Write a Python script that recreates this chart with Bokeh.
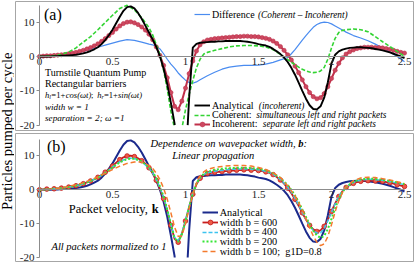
import numpy as np
from bokeh.plotting import figure
from bokeh.models import Label, Legend, LegendItem, Range1d, FixedTicker
from bokeh.layouts import row, column
from bokeh.embed import file_html
from bokeh.resources import INLINE

# ---------------- data ----------------
K_FINE = [
    0.000, 0.025, 0.050, 0.075, 0.100, 0.125, 0.150, 0.175, 0.200, 0.225,
    0.250, 0.275, 0.300, 0.325, 0.350, 0.375, 0.400, 0.425, 0.450, 0.475,
    0.500, 0.525, 0.550, 0.575, 0.600, 0.625, 0.650, 0.675, 0.700, 0.725,
    0.750, 0.775, 0.800, 0.825, 0.850, 0.875, 0.900, 0.925, 0.950, 0.975,
    1.000, 1.025, 1.050, 1.075, 1.100, 1.125, 1.150, 1.175, 1.200, 1.225,
    1.250, 1.275, 1.300, 1.325, 1.350, 1.375, 1.400, 1.425, 1.450, 1.475,
    1.500, 1.525, 1.550, 1.575, 1.600, 1.625, 1.650, 1.675, 1.700, 1.725,
    1.750, 1.775, 1.800, 1.825, 1.850, 1.875, 1.900, 1.925, 1.950, 1.975,
    2.000, 2.025, 2.050, 2.075, 2.100, 2.125, 2.150, 2.175, 2.200, 2.225,
    2.250, 2.275, 2.300, 2.325, 2.350, 2.375, 2.400, 2.425, 2.450, 2.475,
    2.500]

ANALYTICAL = [
    0.0, 0.0, 0.0, 0.0, 0.1, 0.1, 0.2, 0.2, 0.3, 0.4,
    0.5, 0.7, 0.9, 1.2, 1.6, 2.1, 2.7, 3.6, 4.8, 6.2,
    7.8, 9.7, 11.6, 13.3, 14.4, 14.6, 14.0, 12.7, 11.0, 9.0,
    7.0, 5.0, 2.8, 0.0, -3.5, -8.0, -13.5, -19.5, -32.0, -45.0,
    -32.0, -12.0, 2.6, 3.7, 4.0, 4.1, 4.2, 4.3, 4.3, 4.4,
    4.4, 4.5, 4.5, 4.5, 4.5, 4.5, 4.4, 4.3, 4.1, 3.9,
    3.6, 3.4, 3.2, 2.8, 2.2, 1.5, 0.7, -0.3, -1.6, -3.3,
    -5.3, -7.6, -10.0, -12.3, -14.2, -15.3, -15.4, -14.5, -12.0, -7.5,
    -2.0, 0.5, 1.5, 2.0, 2.3, 2.5, 2.6, 2.7, 2.7, 2.6,
    2.5, 2.4, 2.2, 2.0, 1.8, 1.5, 1.2, 0.8, 0.4, 0.0,
    -0.5]

INCOHERENT = [
    0.0, 0.1, 0.2, 0.2, 0.3, 0.4, 0.5, 0.6, 0.8, 1.0,
    1.2, 1.5, 1.8, 2.2, 2.6, 3.1, 3.7, 4.4, 5.2, 6.1,
    7.0, 8.0, 8.9, 9.6, 10.0, 10.1, 9.8, 9.3, 8.6, 7.7,
    6.5, 4.9, 2.8, 0.3, -2.6, -6.2, -10.5, -14.5, -15.5, -13.0,
    -9.2, -5.0, -1.3, 1.6, 3.4, 4.3, 4.8, 5.0, 5.2, 5.3,
    5.4, 5.5, 5.6, 5.7, 5.8, 5.8, 5.9, 5.9, 5.8, 5.8,
    5.7, 5.5, 5.3, 5.0, 4.5, 3.8, 2.9, 1.8, 0.5, -1.0,
    -2.8, -4.7, -6.8, -8.8, -10.5, -11.7, -12.3, -12.0, -10.8, -8.8,
    -6.4, -4.0, -2.0, -0.4, 0.7, 1.4, 1.9, 2.3, 2.5, 2.7,
    2.7, 2.7, 2.6, 2.6, 2.5, 2.3, 2.1, 1.8, 1.5, 1.2,
    1.0]

K_DASH = [
    0.00, 0.05, 0.10, 0.15, 0.20, 0.25, 0.30, 0.35, 0.40, 0.45, 0.50, 0.55, 0.60, 0.65, 0.70, 0.75,
    0.775, 0.800, 0.825, 0.850, 0.875, 0.900, 0.925, 0.950, 0.975, 1.000, 1.025, 1.050, 1.075, 1.100, 1.125,
    1.15, 1.20, 1.25, 1.30, 1.35, 1.40, 1.45, 1.50, 1.55, 1.60, 1.65, 1.70,
    1.725, 1.750, 1.775, 1.800, 1.825, 1.850, 1.875, 1.900, 1.925, 1.950, 1.975, 2.000, 2.025, 2.050, 2.075, 2.100,
    2.15, 2.20, 2.25, 2.30, 2.35, 2.40, 2.45, 2.50]

COHERENT = [
    0.0, 0.1, 0.3, 0.6, 1.3, 2.5, 4.2, 5.8, 7.8, 9.9, 12.0, 14.0, 14.9, 13.6, 11.3, 8.4,
    6.3, 3.4, 0.5, -4.0, -9.5, -16.0, -21.0, -24.0, -21.0, -15.5, -11.0, -7.0, -3.3, -0.8, 0.7,
    1.2, 1.8, 2.3, 2.8, 3.1, 3.2, 3.2, 3.1, 2.8, 2.0, 0.6, -0.9,
    -1.7, -2.4, -3.1, -3.7, -4.2, -4.5, -4.7, -4.6, -4.2, -3.2, -0.8, 2.5, 5.3, 7.0, 7.6, 7.8,
    8.0, 7.8, 7.2, 5.8, 4.3, 2.9, 1.5, 0.0]

DIFFERENCE = [
    0.0, 0.0, 0.1, 0.3, 0.6, 1.0, 1.5, 2.1, 2.7, 3.3, 3.9, 4.5, 4.9, 4.7, 4.2, 3.6,
    3.4, 3.0, 2.2, 0.8, -0.8, -2.2, -3.4, -4.8, -5.9, -6.9, -7.6, -7.8, -7.4, -6.8, -6.2,
    -5.6, -4.6, -3.7, -3.1, -2.8, -2.6, -2.6, -2.5, -2.2, -1.7, -1.0, -0.3,
    0.8, 2.0, 3.4, 4.8, 6.1, 7.3, 8.5, 9.3, 9.8, 10.0, 9.9, 9.5, 8.9, 8.3, 7.7, 7.1,
    6.1, 5.4, 4.6, 3.6, 2.5, 1.3, 0.0, -1.5]

WIDTH_400 = [
    0.0, 0.1, 0.3, 0.5, 0.8, 1.2, 1.8, 2.6, 3.6, 5.0, 6.7, 8.3, 9.3, 9.3, 8.3, 6.4,
    5.0, 3.0, 0.6, -2.3, -6.0, -10.2, -14.0, -15.0, -12.8, -9.0, -4.8, -1.0, 1.9, 3.6, 4.5,
    5.0, 5.5, 5.8, 6.0, 6.1, 6.2, 6.1, 5.9, 5.5, 4.6, 3.1, 0.8,
    -0.7, -2.5, -4.5, -6.6, -8.7, -10.6, -12.0, -12.8, -12.7, -11.4, -9.2, -6.6, -4.1, -2.0, -0.3, 0.9,
    2.2, 2.9, 3.1, 3.0, 2.8, 2.4, 2.0, 1.5]

WIDTH_200 = [
    0.0, 0.1, 0.3, 0.5, 0.8, 1.2, 1.8, 2.6, 3.6, 5.0, 6.6, 8.1, 9.1, 9.2, 8.4, 6.6,
    5.3, 3.4, 1.0, -2.0, -5.8, -10.2, -14.2, -15.4, -13.2, -9.3, -5.0, -1.2, 1.8, 3.7, 4.7,
    5.3, 5.9, 6.2, 6.4, 6.5, 6.5, 6.4, 6.2, 5.8, 4.9, 3.5, 1.4,
    0.0, -1.7, -3.6, -5.8, -8.0, -10.2, -12.1, -13.5, -14.2, -13.6, -11.6, -8.6, -5.4, -2.7, -0.7, 0.8,
    2.4, 3.1, 3.3, 3.2, 2.9, 2.6, 2.2, 1.7]

WIDTH_100 = [
    0.0, 0.1, 0.3, 0.6, 1.0, 1.5, 2.1, 2.9, 3.8, 4.9, 6.0, 7.0, 7.8, 8.2, 8.2, 7.2,
    6.3, 4.9, 3.0, 0.5, -2.8, -6.8, -11.0, -13.8, -13.6, -10.0, -5.5, -1.3, 2.0, 4.1, 5.3,
    6.0, 6.6, 6.9, 7.1, 7.2, 7.2, 7.0, 6.6, 6.0, 5.0, 3.6, 1.2,
    -0.3, -1.8, -3.8, -6.0, -8.6, -11.2, -13.6, -15.5, -16.5, -16.0, -13.8, -10.3, -6.5, -3.2, -0.8, 0.9,
    2.7, 3.5, 3.7, 3.6, 3.3, 2.9, 2.4, 1.8]

X_TICKS = [0, 0.5, 1, 1.5, 2, 2.5]
X_TICK_LABELS = ["0", "0.5", "1", "1.5", "2", "2.5"]
Y_TICKS = [-20, -10, 0, 10]
Y_TICK_LABELS = ["-20", "-10", "0", "10"]
X_MIN, X_MAX = 0, 2.5
Y_MIN, Y_MAX = -20, 15

for s in (ANALYTICAL, INCOHERENT):
    assert len(s) == len(K_FINE)
for s in (COHERENT, DIFFERENCE, WIDTH_400, WIDTH_200, WIDTH_100):
    assert len(s) == len(K_DASH)

# ---------------- layout geometry (page pixels) ----------------
TOTAL_W, TOTAL_H = 415, 262
LABEL_W = 14
PANEL_W = TOTAL_W - LABEL_W
FRAME_L, FRAME_R = 1, PANEL_W - 2
REF_X0, REF_PPK = 39.0, 146.0            # page px of k=0, px per unit k
FONT = "Liberation Serif"


def k_ref(xr):
    return (xr - REF_X0) / REF_PPK


def k_at_fig(fx):
    return k_ref(fx + LABEL_W)


def clip_low(xs, ys, lo=Y_MIN):
    """Emulate the chart's clipping of a line at the axis minimum."""
    ox, oy = [], []
    for i, (x, y) in enumerate(zip(xs, ys)):
        if i > 0:
            x0, y0 = xs[i - 1], ys[i - 1]
            if (y0 < lo) != (y < lo):
                t = (lo - y0) / (y - y0)
                ox.append(x0 + t * (x - x0))
                oy.append(lo)
                if y < lo:
                    ox.append(np.nan)
                    oy.append(np.nan)
        if y >= lo:
            ox.append(x)
            oy.append(y)
    return np.array(ox, float), np.array(oy, float)


def make_panel(fig_top, height, border_bottom, v0_ref, ppv_ref):
    frame_bottom = height - border_bottom

    def v_ref(yr):
        return (v0_ref - yr) / ppv_ref

    def v_at_fig(fy):
        return v_ref(fig_top + fy)

    p = figure(width=PANEL_W, height=height, output_backend="svg", toolbar_location=None,
               x_range=Range1d(k_at_fig(FRAME_L), k_at_fig(FRAME_R)),
               y_range=Range1d(v_at_fig(frame_bottom), v_at_fig(1)),
               min_border_left=FRAME_L, min_border_right=PANEL_W - FRAME_R,
               min_border_top=1, min_border_bottom=border_bottom)
    p.background_fill_color = "white"
    p.border_fill_color = "white"
    p.outline_line_color = "#a6a6a6"
    p.outline_line_width = 1
    p.xgrid.visible = False
    p.ygrid.visible = False

    xa = p.xaxis[0]
    xa.fixed_location = 0
    xa.ticker = FixedTicker(ticks=X_TICKS)
    xa.major_label_overrides = dict(zip(X_TICKS, X_TICK_LABELS))
    xa.bounds = (X_MIN, X_MAX)
    xa.major_tick_out = 0
    xa.major_tick_in = 0
    xa.minor_tick_out = 0
    xa.minor_tick_in = 0
    xa.major_label_standoff = 1

    ya = p.yaxis[0]
    ya.fixed_location = 0
    ya.ticker = FixedTicker(ticks=Y_TICKS)
    ya.major_label_overrides = dict(zip(Y_TICKS, Y_TICK_LABELS))
    ya.bounds = (Y_MIN, Y_MAX)
    ya.major_tick_out = 3
    ya.major_tick_in = 0
    ya.minor_tick_out = 0
    ya.minor_tick_in = 0
    ya.major_label_standoff = 2

    for ax in (xa, ya):
        ax.axis_line_color = "#8c8c8c"
        ax.major_tick_line_color = "#8c8c8c"
        ax.major_label_text_font = FONT
        ax.major_label_text_font_size = "11px"
        ax.major_label_text_color = "#262626"

    p._fig_top = fig_top
    p._frame_bottom = frame_bottom
    p._v_ref = v_ref
    return p


def text(p, xr, yr, s, size, style="normal", color="black"):
    p.add_layout(Label(x=k_ref(xr), y=p._v_ref(yr), text=s, text_font=FONT,
                       text_font_size=f"{size}px", text_font_style=style,
                       text_color=color, text_align="left", text_baseline="middle"))


ITEM_H = 12


def row_legend(p, renderers, label, xr, yr, glyph_w, size, standoff):
    vx = xr - LABEL_W - FRAME_L
    vy = p._frame_bottom - (yr - p._fig_top) - ITEM_H / 2
    leg = Legend(items=[LegendItem(label=label, renderers=renderers)], location=(vx, vy),
                 glyph_width=int(glyph_w), glyph_height=ITEM_H, label_height=ITEM_H, label_width=5,
                 padding=0, spacing=0, margin=0, label_standoff=int(standoff),
                 border_line_alpha=0, background_fill_alpha=0,
                 label_text_font=FONT, label_text_font_size=f"{size}px",
                 label_text_baseline="middle", label_text_color="black")
    p.add_layout(leg)


# ---------------- panel (a) ----------------
pa = make_panel(fig_top=0, height=132, border_bottom=2, v0_ref=56.0, ppv_ref=3.433)

r_diff = pa.line(K_DASH, DIFFERENCE, line_color="#4a8cf0", line_width=1.2)
r_inc_l = pa.line(K_FINE, INCOHERENT, line_color="#c0304a", line_width=2)
r_inc_m = pa.scatter(K_FINE, INCOHERENT, marker="circle", size=4.2,
                     fill_color="#cc4860", line_color="#c0304a", line_width=0.6)
cx, cy = clip_low(K_DASH, COHERENT)
r_coh = pa.line(cx, cy, line_color="#33d433", line_width=1.6, line_dash="4 2")
ax_, ay_ = clip_low(K_FINE, ANALYTICAL)
r_ana = pa.line(ax_, ay_, line_color="black", line_width=1.9)

row_legend(pa, [r_diff], "Difference", 194, 14, 16, 10, 2)
text(pa, 257.5, 14, "(Coherent \u2013 Incoherent)", 9.3, "italic")
row_legend(pa, [r_ana], "Analytical", 194, 105.3, 16, 10, 2)
text(pa, 258.3, 105.3, "(incoherent)", 9.3, "italic")
row_legend(pa, [r_coh], "Coherent:", 194, 114.5, 16, 10, 2)
text(pa, 255.7, 114.5, "simultaneous left and right packets", 9.3, "italic")
row_legend(pa, [r_inc_l, r_inc_m], "Incoherent:", 194, 123.5, 16, 10, 2)
text(pa, 262.3, 123.5, "separate left and right packets", 9.3, "italic")

text(pa, 43.5, 14, "(a)", 16)
text(pa, 44.5, 71.7, "Turnstile Quantum Pump", 10)
text(pa, 44.5, 82.9, "Rectangular barriers", 10)
# h_l = 1 + cos(wt) ; h_r = 1 + sin(wt)
text(pa, 44.5, 94.3, "h", 8.6, "italic")
text(pa, 48.8, 96.3, "l", 6.2, "italic")
text(pa, 50.8, 94.3, "=1+", 8.6)
text(pa, 65.2, 94.3, "cos(\u03c9t)", 8.6, "italic")
text(pa, 90.5, 94.3, " ; ", 8.6)
text(pa, 96.8, 94.3, "h", 8.6, "italic")
text(pa, 101.1, 96.3, "r", 6.2, "italic")
text(pa, 103.4, 94.3, "=1+", 8.6)
text(pa, 117.4, 94.3, "sin(\u03c9t)", 8.6, "italic")
text(pa, 44.5, 106.0, "width  w = 1", 9.1, "italic")
text(pa, 44.5, 117.3, "separation = 2;  \u03c9 =1", 9.2, "italic")

# ---------------- panel (b) ----------------
pb = make_panel(fig_top=132, height=130, border_bottom=1, v0_ref=189.3, ppv_ref=3.385)

ax_b, ay_b = clip_low(K_FINE, ANALYTICAL)
r_b_ana = pb.line(ax_b, ay_b, line_color="#1b2a8c", line_width=2)
r_b600_l = pb.line(K_FINE, INCOHERENT, line_color="#c81e1e", line_width=1.8)
r_b600_m = pb.scatter(K_FINE[::2], INCOHERENT[::2], marker="circle", size=4.6,
                      fill_color="#ee5a46", line_color="#c01818", line_width=0.8)
r_b400 = pb.line(K_DASH, WIDTH_400, line_color="#3cc3f0", line_width=1.5, line_dash="4 2")
r_b200 = pb.line(K_DASH, WIDTH_200, line_color="#35e635", line_width=2, line_dash="2 2")
r_b100 = pb.line(K_DASH, WIDTH_100, line_color="#f47a2c", line_width=1.5, line_dash="5 3")

row_legend(pb, [r_b_ana], "Analytical", 201.7, 212.3, 16, 10.3, 2)
row_legend(pb, [r_b600_l, r_b600_m], "width b = 600", 201.7, 222.0, 16, 10.3, 2)
row_legend(pb, [r_b400], "width b = 400", 201.7, 231.7, 16, 10.3, 2)
row_legend(pb, [r_b200], "width b = 200", 201.7, 241.4, 16, 10.3, 2)
row_legend(pb, [r_b100], "width b = 100;  g1D=0.8", 201.7, 251.1, 16, 10.3, 2)

text(pb, 46.5, 145.5, "(b)", 16)
text(pb, 150, 142.5, "Dependence on wavepacket width, ", 10.5, "italic")
text(pb, 297.8, 142.5, "b", 10.5, "bold italic")
text(pb, 303.0, 142.5, ":", 10.5, "italic")
text(pb, 171.7, 155.3, "Linear propagation", 10.5, "italic")
text(pb, 68.3, 208.0, "Packet velocity, ", 12.5)
text(pb, 151.3, 208.0, "k", 12.5, "bold")
text(pb, 51.0, 245.7, "All packets normalized to 1", 10.5, "italic")

# ---------------- shared y label ----------------
pl = figure(width=LABEL_W, height=TOTAL_H, output_backend="svg", toolbar_location=None,
            x_range=Range1d(0, LABEL_W), y_range=Range1d(0, TOTAL_H),
            x_axis_location=None, y_axis_location=None, min_border=0)
pl.outline_line_color = None
pl.xgrid.visible = False
pl.ygrid.visible = False
pl.add_layout(Label(x=6.6, y=TOTAL_H - 130.8, text="Particles pumped per cycle", angle=np.pi / 2,
                    text_font=FONT, text_font_size="14.6px", text_align="center",
                    text_baseline="middle", text_color="black"))

layout = row(pl, column(pa, pb))
open("out.html", "w").write(file_html(layout, INLINE))
